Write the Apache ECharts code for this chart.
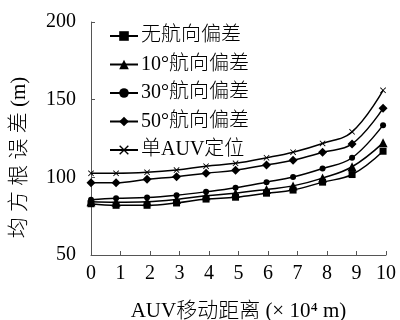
<!DOCTYPE html>
<html>
<head>
<meta charset="utf-8">
<script src="https://cdn.jsdelivr.net/npm/echarts@6/dist/echarts.min.js"></script>
<style>
  html, body { margin: 0; padding: 0; background: #fff; }
  #chart { width: 400px; height: 320px; }
</style>
</head>
<body>
<div id="chart"></div>
<script>
// AUV travel distance (×10^4 m)
const distance = [0, 0.85, 1.9, 2.9, 3.9, 4.9, 5.95, 6.85, 7.85, 8.85, 9.9];

// RMSE (m) for each heading-bias case
const noBias    = [83.0, 82.0, 82.0, 83.5, 86.0, 87.2, 89.8, 91.8, 96.9, 101.8, 116.8];
const bias10    = [84.3, 84.0, 84.3, 85.8, 88.2, 89.8, 92.2, 94.5, 99.5, 106.8, 122.2];
const bias30    = [85.5, 86.5, 87.0, 88.5, 90.7, 93.3, 96.9, 100.2, 105.7, 112.6, 133.6];
const bias50    = [96.5, 96.5, 98.7, 100.4, 102.6, 104.6, 108.0, 111.0, 116.1, 121.5, 144.4];
const singleAuv = [102.6, 102.6, 103.2, 104.7, 107.2, 109.0, 112.6, 116.2, 121.8, 129.3, 156.0];

const seriesNames = ['无航向偏差', '10°航向偏差', '30°航向偏差', '50°航向偏差', '单AUV定位'];
const yTicks = [50, 100, 150, 200];
const xTicks = [0, 10];

const crossPath = 'path://M1,0L5,4L9,0L10,1L6,5L10,9L9,10L5,6L1,10L0,9L4,5L0,1Z';
const markers = [
  { symbol: 'rect', size: 7 },
  { symbol: 'triangle', size: 9 },
  { symbol: 'circle', size: 6 },
  { symbol: 'diamond', size: 9 },
  { symbol: crossPath, size: 6 }
];
const values = [noBias, bias10, bias30, bias50, singleAuv];

const fontFamily = '"Liberation Serif", "Noto Sans CJK SC", serif';

const chart = echarts.init(document.getElementById('chart'), null, { renderer: 'canvas' });

chart.setOption({
  animation: false,
  backgroundColor: '#fff',
  textStyle: { fontFamily: fontFamily, color: '#000' },
  grid: { left: 91, right: 14, top: 22, bottom: 65, outerBoundsMode: 'none', containLabel: false },
  legend: {
    orient: 'vertical',
    left: 104,
    top: 21,
    itemWidth: 28,
    itemHeight: 12,
    itemGap: 8.5,
    textStyle: { fontSize: 20, color: '#000', fontFamily: fontFamily, fontWeight: 300, padding: [0, 0, 0, -2] },
    data: seriesNames
  },
  xAxis: {
    type: 'value',
    min: xTicks[0],
    max: xTicks[1],
    interval: 1,
    name: 'AUV移动距离 (× 10⁴ m)',
    nameLocation: 'middle',
    nameGap: 46,
    nameTextStyle: { fontSize: 21, color: '#000', fontFamily: fontFamily, fontWeight: 300 },
    axisLine: { lineStyle: { color: '#555', width: 1 } },
    axisTick: { inside: true, length: 4, lineStyle: { color: '#555' } },
    axisLabel: { fontSize: 20, color: '#000', margin: 9, fontFamily: fontFamily },
    splitLine: { show: false }
  },
  yAxis: {
    type: 'value',
    min: yTicks[0],
    max: yTicks[yTicks.length - 1],
    interval: 50,
    name: '均 方 根 误 差 (m)',
    nameLocation: 'middle',
    nameRotate: 90,
    nameGap: 61,
    nameTextStyle: { fontSize: 21, color: '#000', fontFamily: fontFamily, fontWeight: 300, padding: [0, 38, 0, 0] },
    axisLine: { show: true, lineStyle: { color: '#555', width: 1 } },
    axisTick: { show: true, inside: true, length: 4, lineStyle: { color: '#555' } },
    axisLabel: { fontSize: 20, color: '#000', margin: 15, fontFamily: fontFamily },
    splitLine: { show: false }
  },
  series: seriesNames.map(function (name, i) {
    return {
      name: name,
      type: 'line',
      smooth: 0.4,
      symbol: markers[i].symbol,
      symbolSize: markers[i].size,
      showAllSymbol: true,
      lineStyle: { color: '#000', width: 1.5 },
      itemStyle: { color: '#000', borderColor: '#000', borderWidth: 0 },
      data: distance.map(function (x, k) { return [x, values[i][k]]; })
    };
  })
});
</script>
</body>
</html>
